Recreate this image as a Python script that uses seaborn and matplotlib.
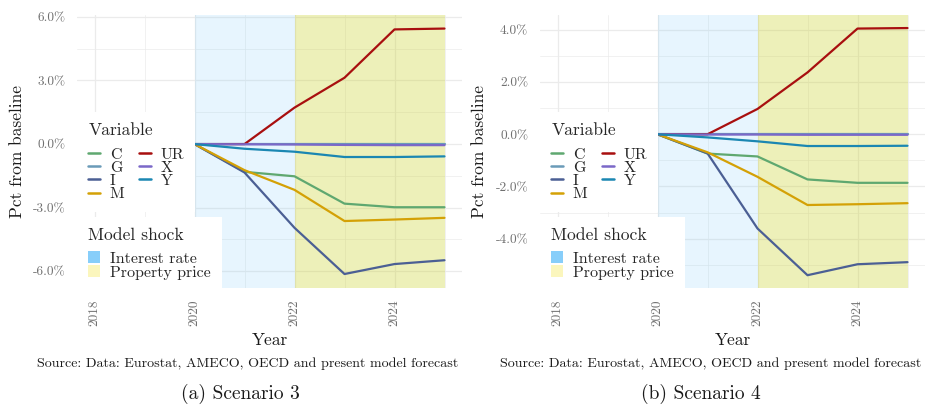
import numpy as np
import pandas as pd
import matplotlib
matplotlib.use("Agg")
import matplotlib.pyplot as plt
import seaborn as sns
from matplotlib.lines import Line2D
from matplotlib.patches import Patch

# ---------------- data ----------------
years = [2018, 2019, 2020, 2021, 2022, 2023, 2024, 2025]
variables = ["C", "G", "I", "M", "UR", "X", "Y"]

s3_C = [0, 0, 0, -1.31, -1.52, -2.81, -2.98, -2.98]
s3_G = [0, 0, 0, 0, 0, 0, 0, 0]
s3_I = [0, 0, 0, -1.34, -3.95, -6.13, -5.66, -5.48]
s3_M = [0, 0, 0, -1.23, -2.16, -3.63, -3.56, -3.48]
s3_UR = [0, 0, 0, 0, 1.72, 3.13, 5.41, 5.45]
s3_X = [0, 0, 0, -0.01, -0.02, -0.04, -0.05, -0.05]
s3_Y = [0, 0, 0, -0.22, -0.36, -0.61, -0.61, -0.58]

s4_C = [0, 0, 0, -0.74, -0.85, -1.73, -1.86, -1.86]
s4_G = [0, 0, 0, 0, 0, 0, 0, 0]
s4_I = [0, 0, 0, -0.73, -3.61, -5.40, -4.98, -4.90]
s4_M = [0, 0, 0, -0.69, -1.63, -2.71, -2.68, -2.64]
s4_UR = [0, 0, 0, 0, 0.97, 2.37, 4.05, 4.07]
s4_X = [0, 0, 0, -0.01, -0.01, -0.02, -0.02, -0.02]
s4_Y = [0, 0, 0, -0.12, -0.27, -0.45, -0.45, -0.44]

s3_yticks = [-6.0, -3.0, 0.0, 3.0, 6.0]
s4_yticks = [-4.0, -2.0, 0.0, 2.0, 4.0]
xticks = [2018, 2020, 2022, 2024]

shock_labels = ["Interest rate", "Property price"]
shock_spans = [(2020, 2022), (2022, 2025)]

colors = {"C": "#5fa870", "G": "#6a9bb8", "I": "#4b5f94", "M": "#d4a106",
          "UR": "#a80f0f", "X": "#7b68c8", "Y": "#1b87b2"}


def long_df(series):
    rows = []
    for v, vals in zip(variables, series):
        for yr, val in zip(years, vals):
            rows.append({"Year": yr, "Variable": v, "value": val})
    return pd.DataFrame(rows)


df3 = long_df([s3_C, s3_G, s3_I, s3_M, s3_UR, s3_X, s3_Y])
df4 = long_df([s4_C, s4_G, s4_I, s4_M, s4_UR, s4_X, s4_Y])

# ---------------- style ----------------
sns.set_theme(style="white")
plt.rcParams["font.family"] = ["cmr10", "DejaVu Serif"]
plt.rcParams["axes.unicode_minus"] = False
plt.rcParams["mathtext.fontset"] = "cm"

W, H = 925, 405
fig = plt.figure(figsize=(W / 100, H / 100), dpi=100)

TICK_COL = "#707070"
GRID_COL = "#ebebeb"
LEG_FS = 11.5
TITLE_FS = 12.6


def px_axes(x0, x1, ytop, ybot):
    return fig.add_axes([x0 / W, 1 - ybot / H, (x1 - x0) / W, (ybot - ytop) / H])


def draw(ax, df, yticks, ylim, fmt):
    ax.set_axisbelow(True)
    for s in ax.spines.values():
        s.set_visible(False)
    ax.set_xlim(2017.65, 2025.35)
    ax.set_ylim(*ylim)
    # grid
    ax.set_xticks(xticks)
    ax.set_xticks([2019, 2021, 2023, 2025], minor=True)
    ax.set_yticks(yticks)
    step = yticks[1] - yticks[0]
    minor = [t + step / 2 for t in [yticks[0] - step] + yticks]
    ax.set_yticks([m for m in minor if ylim[0] < m < ylim[1]], minor=True)
    ax.grid(True, which="major", color=GRID_COL, lw=0.9)
    ax.grid(True, which="minor", color=GRID_COL, lw=0.5)
    ax.set_xticklabels([str(t) for t in xticks], rotation=90)
    ax.set_yticklabels([fmt.format(t) for t in yticks])
    ax.tick_params(axis="both", which="both", length=0, labelsize=9.6,
                   labelcolor=TICK_COL)
    ax.tick_params(axis="x", pad=8.5)
    ax.tick_params(axis="y", pad=8.5)
    # shading
    ax.axvspan(*shock_spans[0], color=(135 / 255, 206 / 255, 250 / 255),
               alpha=0.2, lw=0, zorder=1)
    ax.axvspan(*shock_spans[1], color=(206 / 255, 212 / 255, 55 / 255),
               alpha=0.35, lw=0, zorder=1)
    sns.lineplot(data=df, x="Year", y="value", hue="Variable",
                 hue_order=variables, palette=colors, lw=1.6, ax=ax,
                 legend=False, zorder=2)
    ax.set_xlabel("")
    ax.set_ylabel("")

    # legends
    h1 = [Line2D([], [], color=colors[v], lw=1.8) for v in variables]
    leg1 = ax.legend(h1, variables, title="Variable", ncol=2,
                     loc="lower left", bbox_to_anchor=(0.0, 0.277),
                     borderaxespad=0, frameon=True, facecolor="white",
                     edgecolor="none", framealpha=1, fancybox=False,
                     fontsize=LEG_FS, title_fontsize=TITLE_FS, alignment="left",
                     handlelength=0.75, handletextpad=0.6, columnspacing=0.9,
                     labelspacing=-0.06, borderpad=0.7)
    leg1._legend_box.sep = 6.5
    ax.add_artist(leg1)
    h2 = [Patch(facecolor="#87cefa", edgecolor="none"),
          Patch(facecolor="#fbf6bd", edgecolor="none")]
    leg2 = ax.legend(h2, shock_labels, title="Model shock",
                     loc="lower left", bbox_to_anchor=(0.0, -0.01),
                     borderaxespad=0, frameon=True, facecolor="white",
                     edgecolor="none", framealpha=1, fancybox=False,
                     fontsize=LEG_FS, title_fontsize=TITLE_FS, alignment="left",
                     handlelength=0.75, handleheight=0.75, handletextpad=0.6,
                     labelspacing=-0.04, borderpad=0.7)
    leg2._legend_box.sep = 6.0
    leg1.set_zorder(5)
    leg2.set_zorder(6)


ax1 = px_axes(77, 462, 15, 288)
draw(ax1, df3, s3_yticks, (-6.79, 6.09), "{:.1f}%")
ax2 = px_axes(540, 925, 15, 288)
draw(ax2, df4, s4_yticks, (-5.89, 4.57), "{:.1f}%")

# outside texts
for xc, ylc, src_c, cap_c, cap in [(269.5, 17, 247.5, 240, "(a) Scenario 3"),
                                    (732.5, 479, 711, 701, "(b) Scenario 4")]:
    fig.text(ylc / W, 1 - 151.5 / H, "Pct from baseline", rotation=90,
             ha="center", va="center", fontsize=12.5, color="#1a1a1a")
    fig.text(xc / W, 1 - 340 / H, "Year", ha="center", va="center",
             fontsize=12.5, color="#1a1a1a")
    fig.text(src_c / W, 1 - 364 / H,
             "Source: Data: Eurostat, AMECO, OECD and present model forecast",
             ha="center", va="center", fontsize=10.1, color="#1a1a1a")
    fig.text(cap_c / W, 1 - 394 / H, cap, ha="center", va="center",
             fontsize=14, color="#1a1a1a")

fig.savefig("out.png", dpi=100)
